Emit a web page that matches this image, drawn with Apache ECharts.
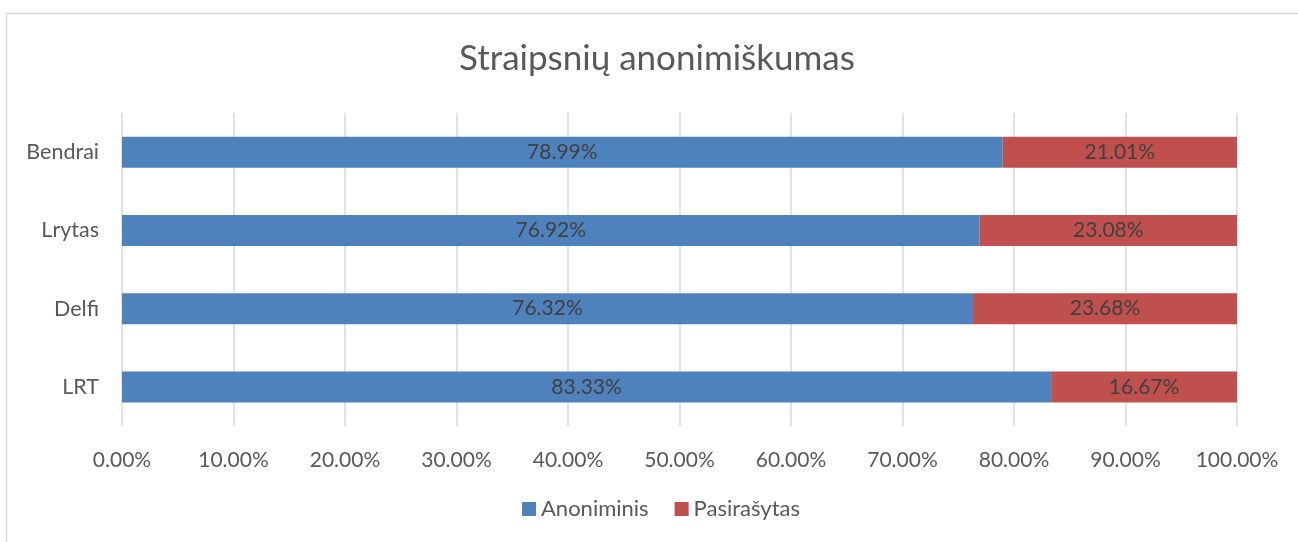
<!DOCTYPE html>
<html>
<head>
<meta charset="utf-8">
<script src="https://cdn.jsdelivr.net/npm/echarts@6/dist/echarts.min.js"></script>
<style>
  html, body { margin: 0; padding: 0; background: #fff; }
  #chart { width: 1298px; height: 542px; }
</style>
</head>
<body>
<div id="chart"></div>
<script>
// bottom to top, as drawn
const categories = ['LRT', 'Delfi', 'Lrytas', 'Bendrai'];
const anoniminis = [83.33, 76.32, 76.92, 78.99];
const pasirasytas = [16.67, 23.68, 23.08, 21.01];
const seriesNames = ['Anoniminis', 'Pasirašytas'];

const font = 'Lato, "Open Sans", sans-serif';

const chart = echarts.init(document.getElementById('chart'));

function barSeries(name, data, color) {
  return {
    name: name,
    type: 'bar',
    stack: 'total',
    data: data,
    barWidth: 31,
    itemStyle: { color: color },
    label: {
      show: true,
      position: 'inside',
      color: '#404040',
      fontFamily: font,
      fontSize: 21,
      formatter: p => p.value.toFixed(2) + '%'
    },
    emphasis: { disabled: true },
    animation: false
  };
}

chart.setOption({
  animation: false,
  textStyle: { fontFamily: font },
  title: {
    text: 'Straipsnių anonimiškumas',
    left: 454,
    top: 36,
    textStyle: {
      fontFamily: font,
      fontSize: 35,
      fontWeight: 'normal',
      color: '#595959'
    }
  },
  graphic: [{
    type: 'rect',
    shape: { x: 6.5, y: 13.5, width: 1320, height: 560 },
    style: { fill: 'none', stroke: '#d9d9d9', lineWidth: 1.5 },
    silent: true
  }],
  legend: {
    bottom: 17,
    left: 517,
    itemWidth: 14,
    itemHeight: 14,
    itemGap: 26,
    icon: 'rect',
    data: seriesNames,
    textStyle: { fontFamily: font, fontSize: 22, color: '#595959' }
  },
  grid: {
    left: 122,
    right: 61,
    top: 113,
    bottom: 116,
    containLabel: false
  },
  xAxis: {
    type: 'value',
    min: 0,
    max: 100,
    interval: 10,
    axisLine: { show: false },
    axisTick: { show: false },
    splitLine: { lineStyle: { color: '#d9d9d9', width: 1.5 } },
    axisLabel: {
      margin: 24,
      fontFamily: font,
      fontSize: 21,
      color: '#595959',
      formatter: v => v.toFixed(2) + '%'
    }
  },
  yAxis: {
    type: 'category',
    data: categories,
    axisLine: { show: false },
    axisTick: { show: false },
    axisLabel: {
      margin: 23,
      fontFamily: font,
      fontSize: 21.5,
      color: '#595959'
    }
  },
  series: [
    barSeries(seriesNames[0], anoniminis, '#4f81bd'),
    barSeries(seriesNames[1], pasirasytas, '#c0504d')
  ]
});
</script>
</body>
</html>
